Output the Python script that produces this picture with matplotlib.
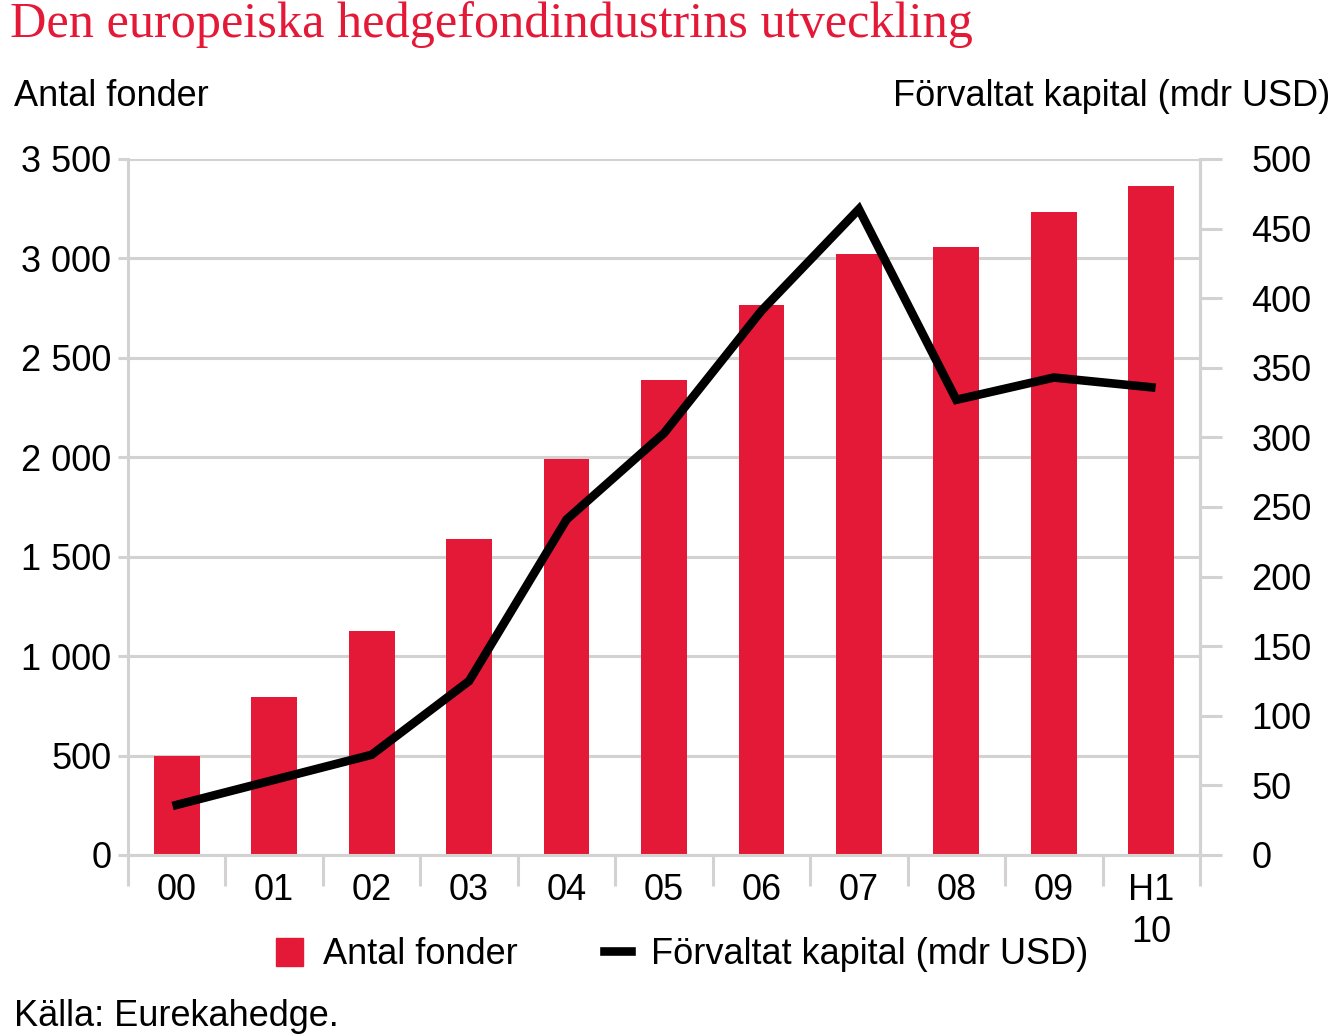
import numpy as np
import matplotlib.pyplot as plt
from matplotlib.patches import Patch
from matplotlib.lines import Line2D
from matplotlib.ticker import FixedLocator

plt.rcParams['font.family'] = ['Liberation Sans', 'DejaVu Sans']

# Data
years = ['00', '01', '02', '03', '04', '05', '06', '07', '08', '09', 'H1\n10']
funds = [500, 795, 1125, 1590, 1990, 2390, 2765, 3020, 3055, 3235, 3365]
capital = [36, 54, 72, 125, 241, 303, 391, 464, 327, 343, 336]

left_ticks = [0, 500, 1000, 1500, 2000, 2500, 3000, 3500]
left_labels = ['0', '500', '1 000', '1 500', '2 000', '2 500', '3 000', '3 500']
right_ticks = [0, 50, 100, 150, 200, 250, 300, 350, 400, 450, 500]

red = '#e31937'
grey = '#d3d2d0'
fs = 26

fig = plt.figure(figsize=(13.34, 10.35), dpi=100)
ax = fig.add_axes([128/1334, 1-855/1035, (1200-128)/1334, (855-159)/1035])

x = np.arange(len(years))
ax.bar(x, funds, width=0.47, color=red, zorder=2)

ax.set_xlim(-0.5, len(years) - 0.5)
ax.set_ylim(0, 3500)
ax.set_yticks(left_ticks)
ax.set_yticklabels(left_labels)
ax.grid(axis='y', color=grey, lw=2.2, zorder=0)
ax.tick_params(axis='y', length=7, width=2.2, color=grey, pad=5, labelsize=fs)

ax.set_xticks(x)
ax.set_xticklabels(years, linespacing=1.25)
ax.tick_params(axis='x', which='major', length=0, pad=13, labelsize=fs)
ax.xaxis.set_minor_locator(FixedLocator(np.arange(-0.5, len(years), 1.0)))
ax.tick_params(axis='x', which='minor', length=22, width=2.2, color=grey)

ax.spines['top'].set_visible(False)
for s in ['left', 'right', 'bottom']:
    ax.spines[s].set_color(grey)
    ax.spines[s].set_linewidth(2.2)

ax2 = ax.twinx()
ax2.plot(x, capital, color='black', lw=6.2, solid_joinstyle='miter', zorder=3)
ax2.set_ylim(0, 500)
ax2.set_yticks(right_ticks)
ax2.tick_params(axis='y', length=16, width=2.2, color=grey, pad=21, labelsize=fs)
for s in ['top', 'left', 'bottom']:
    ax2.spines[s].set_visible(False)
ax2.spines['right'].set_color(grey)
ax2.spines['right'].set_linewidth(2.2)

fig.text(10/1334, 1-25/1035, 'Den europeiska hedgefondindustrins utveckling',
         family='Liberation Serif', color=red, fontsize=36.2, va='center', ha='left')
fig.text(14/1334, 1-96/1035, 'Antal fonder', fontsize=fs, va='center', ha='left')
fig.text(1330/1334, 1-96/1035, 'Förvaltat kapital (mdr USD)', fontsize=fs,
         va='center', ha='right')
fig.text(14/1334, 1-1017/1035, 'Källa: Eurekahedge.', fontsize=fs, va='center', ha='left')

handles = [Patch(color=red, label='Antal fonder'),
           Line2D([0], [0], color='black', lw=6.2, label='Förvaltat kapital (mdr USD)')]
fig.legend(handles=handles, ncol=2, frameon=False, loc='center',
           bbox_to_anchor=(682/1334, 1-955/1035), fontsize=fs,
           handlelength=0.75, handleheight=0.8, handletextpad=0.55, columnspacing=2.4)

fig.savefig('out.png', dpi=100)
